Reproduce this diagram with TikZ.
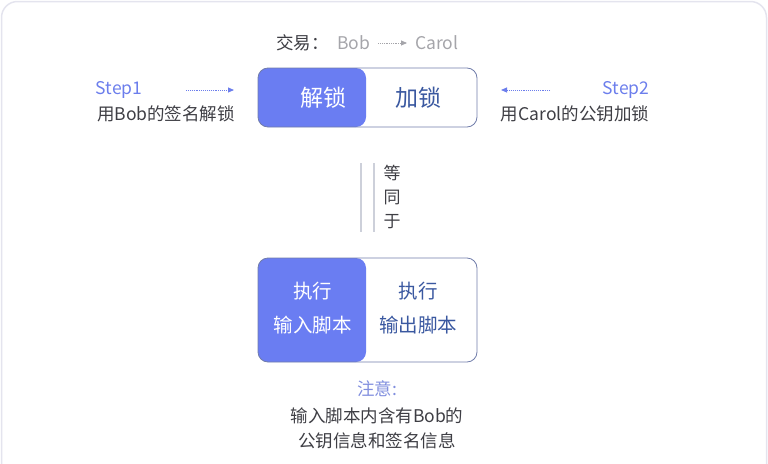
\documentclass[tikz,border=0pt]{standalone}
\usepackage{fontspec}
\setmainfont{Noto Sans CJK SC}
\usetikzlibrary{arrows.meta,positioning}

\definecolor{lockblue}{RGB}{106,125,242}
\definecolor{lockdark}{RGB}{58,88,160}
\definecolor{stepblue}{RGB}{108,126,236}
\definecolor{noteblue}{RGB}{128,142,222}
\definecolor{textgray}{RGB}{62,62,68}
\definecolor{softgray}{RGB}{165,165,170}
\definecolor{boxline}{RGB}{112,124,170}
\definecolor{framegray}{RGB}{228,228,238}
\definecolor{pairline}{RGB}{205,208,218}

\tikzset{
  plain/.style={inner sep=0pt, text=textgray, font=\fontsize{17.5}{20}\selectfont},
  steplabel/.style={inner sep=0pt, text=stepblue, font=\fontsize{17.5}{20}\selectfont},
  splitbox/.style={draw=boxline, line width=0.8pt, rounded corners=10pt, minimum width=219pt,
    path picture={\fill[lockblue] (path picture bounding box.north west) rectangle ([xshift=-111pt]path picture bounding box.south east);}},
  steparrow/.style={densely dotted, line width=0.9pt, draw=stepblue, -{Triangle[length=6pt,width=5pt]}}
}

\begin{document}
\begin{tikzpicture}[x=1pt, y=-1pt]
        \useasboundingbox (0,0) rectangle (768,463);
        \draw[framegray, line width=1.5pt, rounded corners=16pt] (1.5,1.5) rectangle (766.5,540);

        % Transaction line
        \node [plain, anchor=west] (deal) at (276,43) {交易：};
        \node [plain, text=softgray, anchor=west] (bob) at (337,43) {Bob};
        \node [plain, text=softgray, anchor=west] (carol) at (415,43) {Carol};
        \draw[densely dotted, line width=0.8pt, draw=softgray, -{Triangle[length=6pt,width=5pt]}, shorten <=8pt, shorten >=8pt] (bob) -- (carol);

        % Unlock / lock box
        \node [splitbox, minimum height=59pt] (topbox) at (367.5,97.5) {};
        \node [plain, text=white, font=\fontsize{23}{26}\selectfont] (unlock) at (323,98) {解锁};
        \node [plain, text=lockdark, font=\fontsize{23}{26}\selectfont] (lock) at (418,98) {加锁};

        % Step 1
        \node [steplabel] (step1) at (119,90) {Step1};
        \node [plain] (step1text) at (166,114) {用Bob的签名解锁};
        \coordinate (step1from) at (186,90);
        \coordinate (step1to) at (234,90);
        \draw[steparrow] (step1from) -- (step1to);

        % Step 2
        \node [steplabel] (step2) at (626,90) {Step2};
        \node [plain] (step2text) at (575,114) {用Carol的公钥加锁};
        \coordinate (step2from) at (550,90);
        \coordinate (step2to) at (501,90);
        \draw[steparrow] (step2from) -- (step2to);

        % Script box
        \node [splitbox, minimum height=104pt] (scriptbox) at (367.5,310) {};
        \node [plain, text=white, align=center, font=\fontsize{19.5}{34}\selectfont] (inscript) at (312.5,308) {执行\\输入脚本};
        \node [plain, text=lockdark, align=center, font=\fontsize{19.5}{34}\selectfont] (outscript) at (418,308) {执行\\输出脚本};

        % Equivalence
        \draw[draw=pairline, line width=1.6pt, double=white, double distance=11pt, shorten <=36pt, shorten >=26pt] (topbox.south) -- (scriptbox.north);
        \node [plain, align=center, font=\fontsize{17}{24}\selectfont] (same) at (392,197) {等\\同\\于};

        % Note
        \node [plain, text=noteblue] (notehead) at (377,389) {注意:};
        \node [plain, align=center, font=\fontsize{17.5}{25}\selectfont, below=10pt of notehead] (notetext) {输入脚本内含有Bob的\\公钥信息和签名信息};
    \end{tikzpicture}
\end{document}
